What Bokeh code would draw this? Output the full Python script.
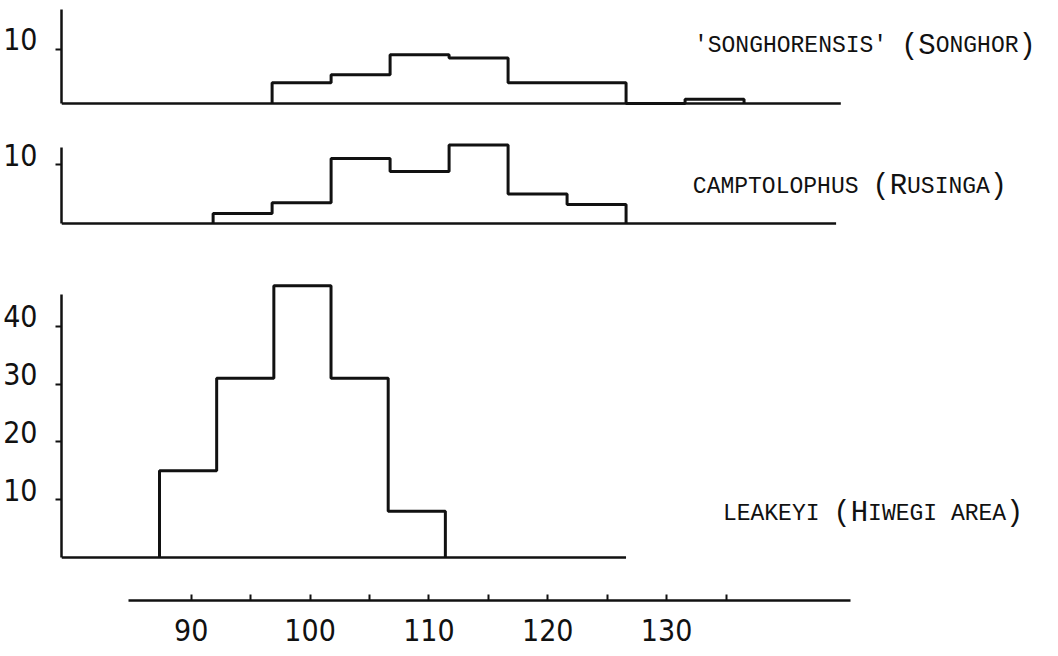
from bokeh.plotting import figure
from bokeh.layouts import column
from bokeh.models import Range1d, FixedTicker, Label, LinearAxis
from bokeh.embed import file_html
from bokeh.resources import INLINE

# ---------------- data ----------------
bin_width = 5
# 'songhorensis' (Songhor): bins starting at 97.5
song_start = 97.5
song_counts = [3.8, 5.3, 9.0, 8.4, 3.8, 3.8, 0.0, 0.8]
# camptolophus (Rusinga): bins starting at 92.5
camp_start = 92.5
camp_counts = [1.7, 3.5, 11.0, 8.8, 13.3, 5.0, 3.2]
# leakeyi (Hiwegi area): bins starting at 87.5
leak_start = 87.5
leak_counts = [15, 31, 47, 31, 8]

# extent of each panel's drawn base line (data units)
baseline_ends = [145.7, 145.3, 128.3]
# bottom measurement axis
x_axis_span = (84.7, 145.5)
x_major_ticks = [90, 100, 110, 120, 130]
x_minor_ticks = [95, 105, 115, 125, 135]
x_tick_labels = ["90", "100", "110", "120", "130"]
y_ticks_small = [10]
y_ticks_large = [10, 20, 30, 40]

captions = [
    [("'SONGHORENSIS' ", False), ("(S", True), ("ONGHOR", False), (")", True)],
    [("CAMPTOLOPHUS ", False), ("(R", True), ("USINGA", False), (")", True)],
    [("LEAKEYI ", False), ("(H", True), ("IWEGI AREA", False), (")", True)],
]

# ---------------- styling ----------------
W = 1058
LEFT = 60
INK = "#111111"
TICK_FONT = "DejaVu Sans Condensed"
CAP_FONT = "Liberation Mono"
SMALL, BIG = 23, 29
LABEL_LIFT_PX = 10  # tick numbers sit a little above their ticks in the original


def step_xy(start, counts):
    xs = [start] + [start + i * bin_width for i in range(len(counts) + 1)]
    ys = [0] + list(counts) + [0]
    return xs, ys


def panel(height, top, bottom, xr, yr, ticks, bounds, px_per_unit):
    p = figure(width=W, height=height, output_backend="svg", toolbar_location=None,
               x_range=Range1d(*xr), y_range=Range1d(*yr), x_axis_location=None,
               min_border_left=LEFT, min_border_right=0,
               min_border_top=top, min_border_bottom=bottom)
    p.outline_line_color = None
    p.grid.visible = False
    # axis line + ticks
    ax = p.yaxis[0]
    ax.ticker = FixedTicker(ticks=ticks, minor_ticks=[])
    ax.bounds = bounds
    ax.axis_line_width = 2.5
    ax.axis_line_color = INK
    ax.major_tick_line_width = 2
    ax.major_tick_line_color = INK
    ax.major_tick_out = 6
    ax.major_tick_in = 0
    ax.minor_tick_line_color = None
    ax.major_label_overrides = {t: "" for t in ticks}
    ax.major_label_standoff = 0
    # tick numbers, on a range lifted by a few pixels
    d = LABEL_LIFT_PX / px_per_unit
    p.extra_y_ranges = {"labels": Range1d(yr[0] - d, yr[1] - d)}
    lab = LinearAxis(y_range_name="labels", ticker=FixedTicker(ticks=ticks, minor_ticks=[]))
    lab.axis_line_color = None
    lab.major_tick_line_color = None
    lab.minor_tick_line_color = None
    lab.major_tick_out = 0
    lab.major_tick_in = 0
    lab.major_label_text_font = TICK_FONT
    lab.major_label_text_font_size = "30px"
    lab.major_label_text_color = INK
    lab.major_label_standoff = 18
    p.add_layout(lab, "left")
    return p


def add_caption(p, x, y, pieces):
    off = 0.0
    for txt, big in pieces:
        size = BIG if big else SMALL
        p.add_layout(Label(x=x, y=y, x_offset=off, text=txt, text_font=CAP_FONT,
                           text_font_size=f"{size}px", text_color=INK,
                           text_baseline="alphabetic", text_align="left"))
        off += len(txt) * 0.6 * size


def draw_hist(p, start, counts, base_end):
    p.segment(x0=[p.x_range.start], y0=[0], x1=[base_end], y1=[0],
              line_color=INK, line_width=2.5)
    xs, ys = step_xy(start, counts)
    p.step(xs, ys, mode="after", line_color=INK, line_width=3)


# panel 1: 'songhorensis'
p1 = panel(120, 9, 12, (79.65, 164.15), (-0.92, 17.31), y_ticks_small, (0, 17.31), 5.43)
draw_hist(p1, song_start, song_counts, baseline_ends[0])
add_caption(p1, 133.25, 10.5, captions[0])

# panel 2: camptolophus
p2 = panel(120, 20, 12, (79.65, 164.15), (-0.85, 14.07), y_ticks_small, (0, 12.88), 5.9)
draw_hist(p2, camp_start, camp_counts, baseline_ends[1])
add_caption(p2, 133.16, 6.2, captions[1])

# panel 3: leakeyi
p3 = panel(330, 38, 8, (78.93, 166.12), (-0.865, 48.27), y_ticks_large, (0, 45.5), 5.78)
draw_hist(p3, leak_start, leak_counts, baseline_ends[2])
add_caption(p3, 136.77, 7.6, captions[2])

# bottom measurement axis
p4 = figure(width=W, height=84, output_backend="svg", toolbar_location=None,
            x_range=Range1d(79.08, 162.98), y_range=Range1d(0, 1), y_axis_location=None,
            min_border_left=LEFT, min_border_right=0, min_border_top=1, min_border_bottom=54)
p4.outline_line_color = None
p4.grid.visible = False
xa = p4.xaxis[0]
xa.ticker = FixedTicker(ticks=x_major_ticks, minor_ticks=x_minor_ticks)
xa.major_label_overrides = {t: s for t, s in zip(x_major_ticks, x_tick_labels)}
xa.bounds = x_axis_span
xa.axis_line_width = 2.5
xa.axis_line_color = INK
xa.major_tick_in = 6
xa.major_tick_out = 0
xa.minor_tick_in = 6
xa.minor_tick_out = 0
xa.major_tick_line_width = 2
xa.minor_tick_line_width = 2
xa.major_tick_line_color = INK
xa.minor_tick_line_color = INK
xa.major_label_text_font = TICK_FONT
xa.major_label_text_font_size = "30px"
xa.major_label_text_color = INK
xa.major_label_standoff = 18

layout = column(p1, p2, p3, p4, spacing=0)
open("out.html", "w").write(file_html(layout, INLINE))
